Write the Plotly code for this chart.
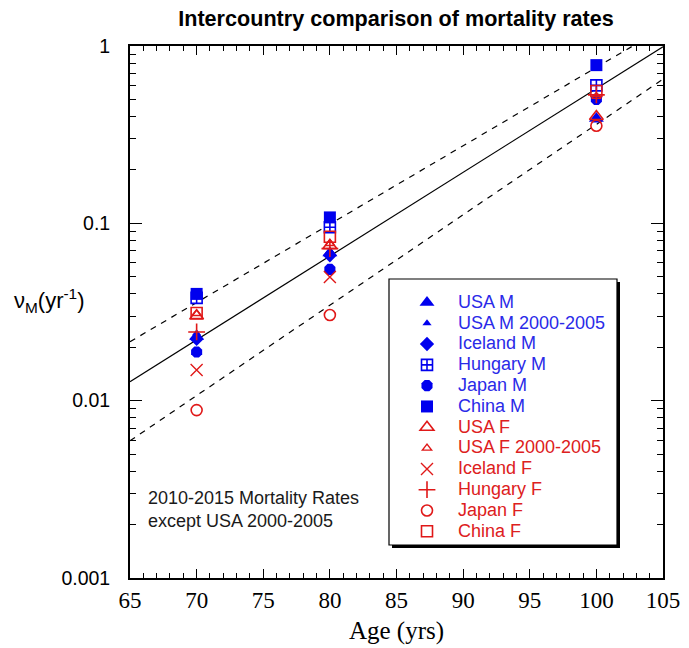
import plotly.graph_objects as go

# Ages at which death rates were sampled
ages = [70, 80, 100]

# Annual mortality rates (per year), males
usa_m = [0.023, 0.068, 0.39]
usa_m_2000_2005 = [0.024, 0.070, 0.38]
iceland_m = [0.0223, 0.066, None]
hungary_m = [0.038, 0.095, 0.60]
japan_m = [0.0188, 0.055, 0.50]
china_m = [0.040, 0.108, 0.78]

# Annual mortality rates (per year), females
usa_f = [0.030, 0.075, 0.40]
usa_f_2000_2005 = [0.031, 0.077, 0.52]
iceland_f = [0.0149, 0.0498, None]
hungary_f = [0.0244, 0.072, 0.53]
japan_f = [0.00885, 0.0304, 0.355]
china_f = [0.0312, 0.084, 0.557]

# Reference exponential (Gompertz) lines: end-point values at ages 65 and 105
line_ages = [65, 105]
central_line = [0.0128, 0.99]
upper_line = [0.0215, 1.26]
lower_line = [0.00594, 0.65]

BLUE = "#0000ee"
RED = "#e01818"
BLUE_TXT = "#2a2ae8"
RED_TXT = "#dd2020"

series = [
    ("USA M", usa_m, dict(symbol="triangle-up", size=13, color=BLUE), BLUE_TXT),
    ("USA M 2000-2005", usa_m_2000_2005, dict(symbol="triangle-up", size=8, color=BLUE), BLUE_TXT),
    ("Iceland M", iceland_m, dict(symbol="diamond", size=11, color=BLUE), BLUE_TXT),
    ("Hungary M", hungary_m, dict(symbol="square-cross", size=11, color="white",
                                   line=dict(color=BLUE, width=1.6)), BLUE_TXT),
    ("Japan M", japan_m, dict(symbol="octagon", size=12, color=BLUE), BLUE_TXT),
    ("China M", china_m, dict(symbol="square", size=12, color=BLUE), BLUE_TXT),
    ("USA F", usa_f, dict(symbol="triangle-up-open", size=12, color=RED,
                          line=dict(width=1.6)), RED_TXT),
    ("USA F 2000-2005", usa_f_2000_2005, dict(symbol="triangle-up-open", size=8, color=RED,
                                              line=dict(width=1.4)), RED_TXT),
    ("Iceland F", iceland_f, dict(symbol="x-thin-open", size=12, color=RED,
                                  line=dict(width=1.4)), RED_TXT),
    ("Hungary F", hungary_f, dict(symbol="cross-thin-open", size=12, color=RED,
                                  line=dict(width=1.6)), RED_TXT),
    ("Japan F", japan_f, dict(symbol="circle-open", size=11, color=RED,
                              line=dict(width=1.6)), RED_TXT),
    ("China F", china_f, dict(symbol="square-open", size=11, color=RED,
                              line=dict(width=1.6)), RED_TXT),
]

fig = go.Figure()

# Fitted lines (not shown in legend)
fig.add_trace(go.Scatter(x=line_ages, y=central_line, mode="lines",
                         line=dict(color="black", width=1.2), showlegend=False,
                         hoverinfo="skip"))
for band in (upper_line, lower_line):
    fig.add_trace(go.Scatter(x=line_ages, y=band, mode="lines",
                             line=dict(color="black", width=1.2, dash="6px,6px"),
                             showlegend=False, hoverinfo="skip"))

for name, values, marker, txt_color in series:
    fig.add_trace(go.Scatter(
        x=ages, y=values, mode="markers", marker=marker,
        name=f'<span style="color:{txt_color};font-size:18px">{name}</span>',
        cliponaxis=False,
    ))

W, H = 689, 648
L, R, T, B = 130, 26, 46, 70
pw, ph = W - L - R, H - T - B


def px_x(p):
    return (p - L) / pw


def px_y(p):
    return 1 - (p - T) / ph


minor_y = [m * 10 ** e for e in (-3, -2, -1) for m in range(2, 10)]

fig.update_layout(
    width=W, height=H,
    margin=dict(l=L, r=R, t=T, b=B, autoexpand=False),
    paper_bgcolor="white", plot_bgcolor="white",
    font=dict(family="Liberation Sans", color="black"),
    title=dict(text="<b>Intercountry comparison of mortality rates</b>",
               font=dict(family="Liberation Sans", size=21.6, color="black"),
               x=px_x(396), xref="paper", xanchor="center",
               y=1 - 18 / H, yref="container", yanchor="middle"),
    xaxis=dict(
        range=[65, 105], tickmode="linear", tick0=65, dtick=5,
        ticks="inside", ticklen=9, tickwidth=1.3, tickcolor="black",
        showline=True, linecolor="black", linewidth=1.8, mirror="ticks",
        showgrid=False, zeroline=False, automargin=False,
        tickfont=dict(family="Liberation Serif", size=23, color="black"),
        minor=dict(dtick=1, ticks="inside", ticklen=5, tickwidth=1.1,
                   tickcolor="black", showgrid=False),
        title=dict(text="Age (yrs)",
                   font=dict(family="Liberation Serif", size=25, color="black"),
                   standoff=10),
    ),
    yaxis=dict(
        type="log", range=[-3, 0],
        tickvals=[0.001, 0.01, 0.1, 1], ticktext=["0.001", "0.01", "0.1", "1"],
        ticks="inside", ticklen=12, tickwidth=1.3, tickcolor="black",
        showline=True, linecolor="black", linewidth=1.8, mirror="ticks",
        showgrid=False, zeroline=False, automargin=False,
        tickfont=dict(family="Liberation Sans", size=19.5, color="black"),
        ticklabelstandoff=14,
        minor=dict(tickmode="array", tickvals=minor_y, ticks="inside", ticklen=6,
                   tickwidth=1.1, tickcolor="black", showgrid=False),
    ),
    legend=dict(
        x=px_x(396), y=px_y(287), xanchor="left", yanchor="top",
        bgcolor="rgba(0,0,0,0)", borderwidth=0,
        font=dict(family="Liberation Sans", size=13.7),
        itemwidth=52, itemsizing="trace", tracegroupgap=0,
    ),
    showlegend=True,
)

# Legend frame with a drop shadow
fig.add_shape(type="rect", xref="paper", yref="paper",
              x0=px_x(392), x1=px_x(620), y0=px_y(548), y1=px_y(282),
              fillcolor="black", line=dict(width=0), layer="above")
fig.add_shape(type="rect", xref="paper", yref="paper",
              x0=px_x(389), x1=px_x(617), y0=px_y(545), y1=px_y(279),
              fillcolor="white", line=dict(color="black", width=1.2), layer="above")

# Y-axis label
fig.add_annotation(text="ν<sub>M</sub>(yr<sup>-1</sup>)", xref="paper", yref="paper",
                   x=px_x(12), y=px_y(300), xanchor="left", yanchor="middle",
                   showarrow=False, font=dict(family="Liberation Sans", size=22, color="black"))

# Note on data periods
fig.add_annotation(text="2010-2015 Mortality Rates<br>except USA 2000-2005",
                   xref="paper", yref="paper", x=px_x(146), y=px_y(509),
                   xanchor="left", yanchor="middle", align="left", showarrow=False,
                   font=dict(family="Liberation Sans", size=18, color="#1a1a1a"))

fig.write_html("out.html")
